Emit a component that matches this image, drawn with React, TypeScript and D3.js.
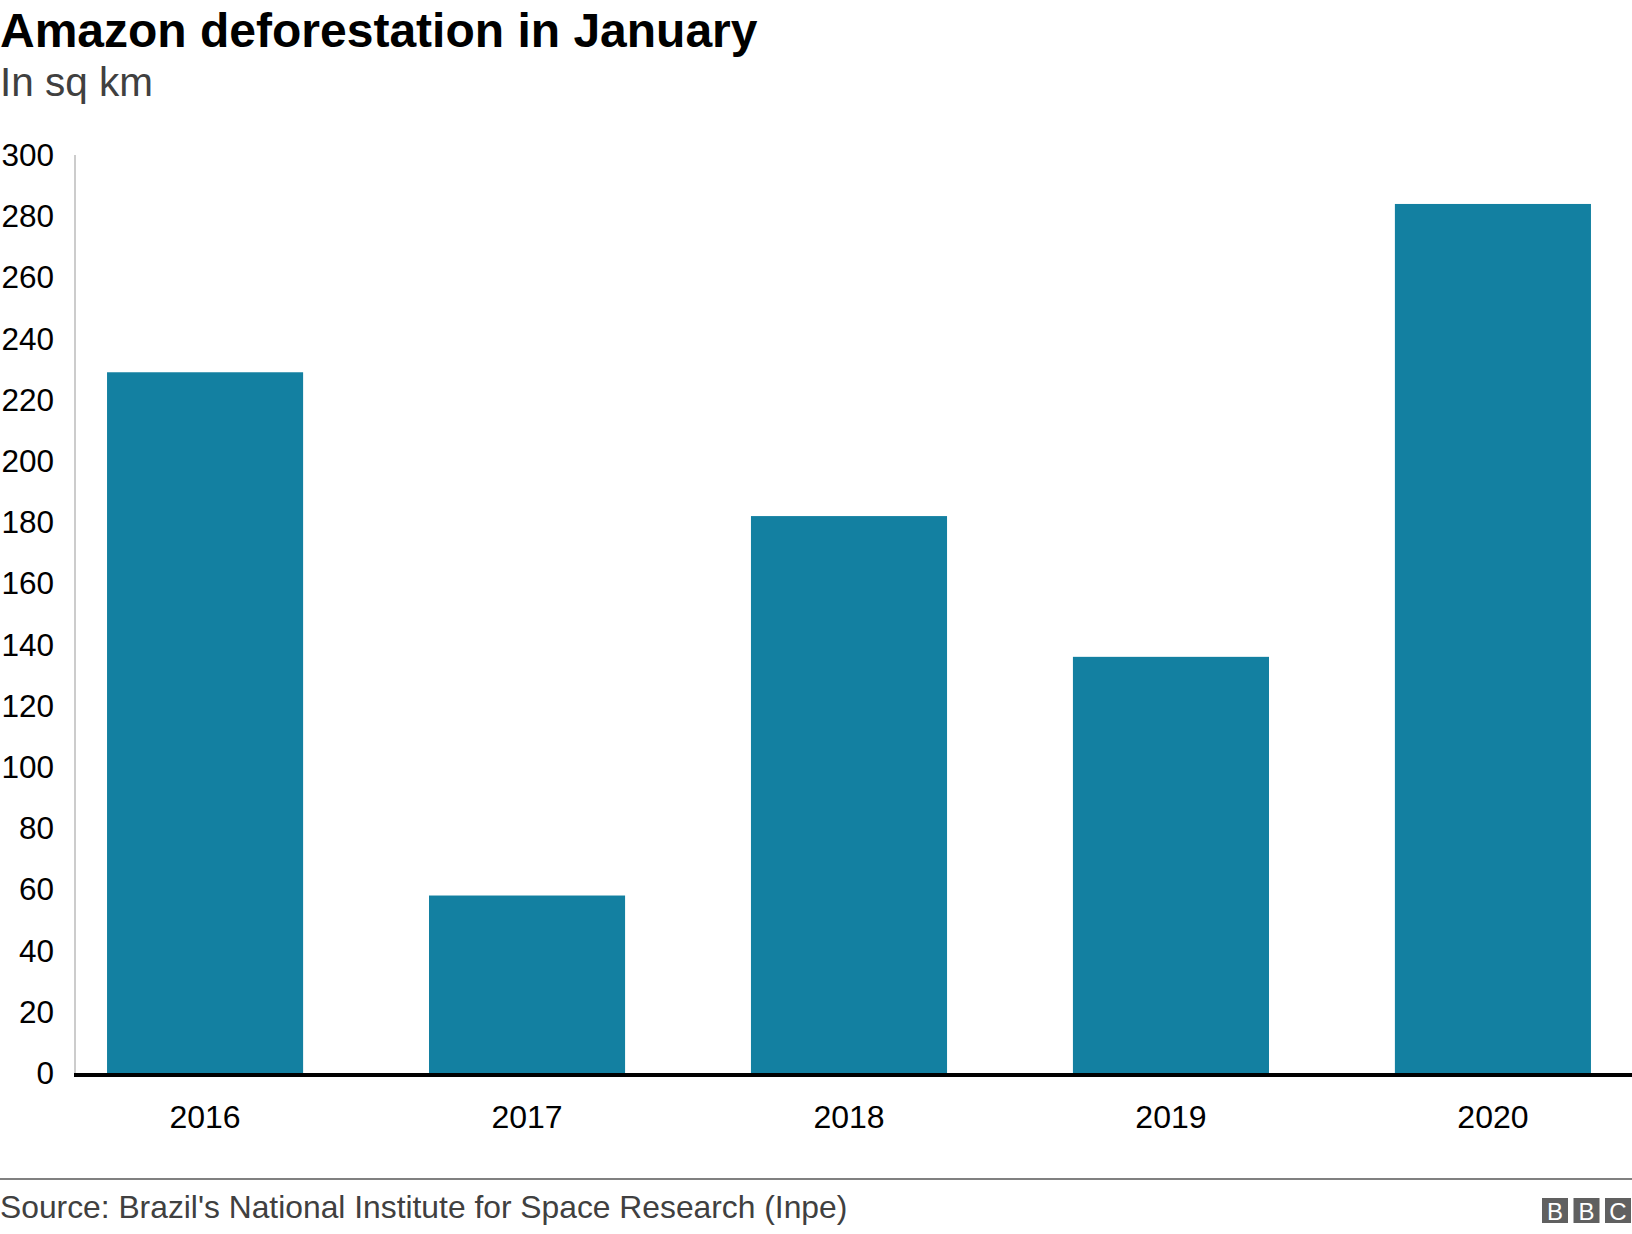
import React from "react";
import * as d3 from "d3";

const years = ["2016", "2017", "2018", "2019", "2020"];
const deforestation = [229, 58, 182, 136, 284];
const yTicks = [0, 20, 40, 60, 80, 100, 120, 140, 160, 180, 200, 220, 240, 260, 280, 300];

const W = 1632;
const H = 1234;
const FONT = "'Liberation Sans', Arial, Helvetica, sans-serif";

export default function App() {
  const y = d3.scaleLinear().domain([0, 300]).range([1073, 155]);
  const x = d3
    .scaleBand<string>()
    .domain(years)
    .range([75, 1623])
    .paddingInner(0.391)
    .paddingOuter(0.0995);

  return (
    <svg width={W} height={H} style={{ display: "block", position: "absolute", left: 0, top: 0 }}>
      <rect x={0} y={0} width={W} height={H} fill="#fff" />
      <text x={0} y={47} fontFamily={FONT} fontWeight="bold" fontSize={48} fill="#000">
        Amazon deforestation in January
      </text>
      <text x={0} y={96} fontFamily={FONT} fontSize={40.5} fill="#404040">
        In sq km
      </text>

      {/* y axis line */}
      <line x1={75} x2={75} y1={y(300)} y2={y(0)} stroke="#cccccc" strokeWidth={2} />

      {yTicks.map((t) => (
        <text
          key={t}
          x={54}
          y={y(t)}
          dy="0.35em"
          textAnchor="end"
          fontFamily={FONT}
          fontSize={31.5}
          fill="#000"
        >
          {t}
        </text>
      ))}

      {years.map((yr, i) => (
        <rect
          key={yr}
          x={x(yr)}
          y={y(deforestation[i])}
          width={x.bandwidth()}
          height={y(0) - y(deforestation[i])}
          fill="#1380A1"
        />
      ))}

      <line x1={74} x2={W} y1={1075} y2={1075} stroke="#000" strokeWidth={4} />

      {years.map((yr) => (
        <text
          key={yr}
          x={(x(yr) as number) + x.bandwidth() / 2}
          y={1128}
          textAnchor="middle"
          fontFamily={FONT}
          fontSize={32}
          fill="#000"
        >
          {yr}
        </text>
      ))}

      <line x1={0} x2={W} y1={1179} y2={1179} stroke="#808080" strokeWidth={2} />
      <text x={0} y={1218} fontFamily={FONT} fontSize={31.8} fill="#404040">
        Source: Brazil's National Institute for Space Research (Inpe)
      </text>

      {["B", "B", "C"].map((l, i) => (
        <g key={i} transform={`translate(${1542 + i * 31.5},1198)`}>
          <rect width={26} height={25} fill="#606060" />
          <text
            x={13}
            y={21.5}
            textAnchor="middle"
            fontFamily={FONT}
            fontSize={24}
            fill="#fff"
          >
            {l}
          </text>
        </g>
      ))}
    </svg>
  );
}
